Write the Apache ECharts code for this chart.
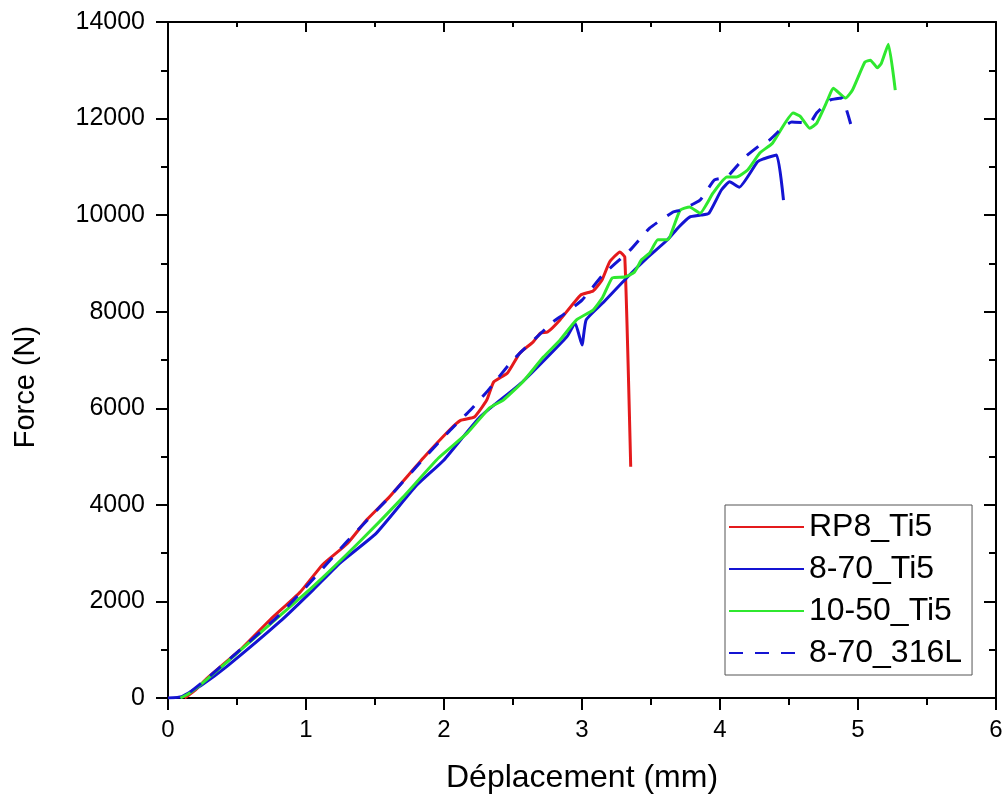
<!DOCTYPE html>
<html>
<head>
<meta charset="utf-8">
<script src="https://cdn.jsdelivr.net/npm/echarts@6/dist/echarts.min.js"></script>
<style>
  html, body { margin: 0; padding: 0; background: #fff; }
  #chart { width: 1005px; height: 796px; }
</style>
</head>
<body>
<div id="chart"></div>
<script>
// Force–displacement curves, [displacement (mm), force (N)]
const rp8Ti5 = [
  [0.12, 0], [0.20, 170], [0.28, 400], [0.52, 990], [0.74, 1620], [0.96, 2200], [1.12, 2760],
  [1.30, 3200], [1.44, 3690], [1.60, 4150], [1.85, 4970], [2.04, 5550], [2.12, 5750],
  [2.22, 5820], [2.31, 6170], [2.36, 6545], [2.46, 6730], [2.55, 7145], [2.645, 7370],
  [2.70, 7560], [2.75, 7580], [2.84, 7830], [2.99, 8346], [3.08, 8430], [3.145, 8657],
  [3.20, 9030], [3.275, 9237], [3.31, 9130], [3.353, 4790]
];
const ti5_870 = [
  [0, 0], [0.10, 30], [0.25, 280], [0.425, 650], [0.81, 1580], [1.05, 2235],
  [1.246, 2795], [1.51, 3415], [1.80, 4400], [2.00, 4930], [2.26, 5820], [2.57, 6550],
  [2.89, 7480], [2.95, 7766], [3.00, 7310], [3.03, 7830], [3.15, 8180], [3.33, 8720],
  [3.47, 9110], [3.62, 9490], [3.70, 9750], [3.78, 9960], [3.86, 10000], [3.92, 10040],
  [4.01, 10520], [4.07, 10690], [4.14, 10580], [4.27, 11100], [4.31, 11160],
  [4.41, 11245], [4.46, 10310]
];
const ti5_1050 = [
  [0.09, 0], [0.15, 90], [0.25, 310], [0.45, 800], [0.667, 1345], [1.05, 2305], [1.39, 3240], [1.70, 4150],
  [1.96, 4970], [2.17, 5490], [2.33, 6010], [2.43, 6170], [2.57, 6545], [2.72, 7060],
  [2.84, 7410], [2.96, 7830], [3.08, 8035], [3.15, 8300], [3.22, 8700], [3.31, 8720],
  [3.38, 8820], [3.43, 9070], [3.49, 9215], [3.55, 9490], [3.62, 9490], [3.71, 10100],
  [3.78, 10170], [3.855, 10040], [3.95, 10460], [4.05, 10790], [4.12, 10790],
  [4.20, 10935], [4.29, 11290], [4.38, 11490], [4.53, 12115], [4.58, 12050],
  [4.65, 11800], [4.70, 11900], [4.78, 12385], [4.82, 12630], [4.91, 12425],
  [4.96, 12590], [5.05, 13170], [5.09, 13210], [5.14, 13050], [5.17, 13150],
  [5.22, 13540], [5.27, 12590]
];
const l316_870 = [
  [0.16, 120], [0.28, 400], [0.52, 990], [0.80, 1700], [1.00, 2300], [1.30, 3250],
  [1.60, 4150], [1.85, 4950], [2.04, 5530], [2.19, 5960], [2.31, 6340], [2.50, 7000],
  [2.79, 7790], [2.86, 7930], [3.00, 8240], [3.15, 8760], [3.35, 9280], [3.49, 9730],
  [3.66, 10065], [3.71, 10100], [3.855, 10310], [3.96, 10730], [4.05, 10790],
  [4.13, 11040], [4.18, 11200], [4.29, 11450], [4.36, 11560], [4.46, 11830],
  [4.52, 11930], [4.65, 11910], [4.70, 12115], [4.80, 12385], [4.88, 12425],
  [4.96, 11750]
];
const seriesNames = ['RP8_Ti5', '8-70_Ti5', '10-50_Ti5', '8-70_316L'];

const FONT = "'Liberation Sans', Arial, Helvetica, sans-serif";
const black = '#000';

function axisBase(extra) {
  return Object.assign({
    type: 'value',
    axisLine: { show: true, onZero: false, lineStyle: { color: black, width: 2 } },
    axisTick: { show: true, length: 12, lineStyle: { color: black, width: 2 } },
    minorTick: { show: true, splitNumber: 2, length: 7, lineStyle: { color: black, width: 2 } },
    splitLine: { show: false },
    axisLabel: { color: black, fontFamily: FONT }
  }, extra);
}

const chart = echarts.init(document.getElementById('chart'), null, { renderer: 'canvas' });

function lineSeries(name, data, color, type) {
  return {
    name: name,
    type: 'line',
    data: data,
    symbol: 'none',
    smooth: 0.15,
    color: color,
    lineStyle: { color: color, width: 3, type: type || 'solid' },
    emphasis: { disabled: true }
  };
}

chart.setOption({
  animation: false,
  backgroundColor: '#fff',
  grid: { left: 168, right: 9, top: 22, bottom: 98, containLabel: false, outerBoundsMode: 'none' },
  xAxis: [
    axisBase({
      min: 0, max: 6, interval: 1, position: 'bottom',
      axisLabel: { color: black, fontFamily: FONT, fontSize: 24, margin: 20 },
      name: 'Déplacement (mm)', nameLocation: 'middle', nameGap: 64,
      nameTextStyle: { color: black, fontFamily: FONT, fontSize: 32 }
    }),
    axisBase({
      min: 0, max: 6, interval: 1, position: 'top',
      axisTick: { show: true, inside: true, length: 10, lineStyle: { color: black, width: 2 } },
      minorTick: { show: true, splitNumber: 2, length: 5, lineStyle: { color: black, width: 2 } },
      axisLabel: { show: false }
    })
  ],
  yAxis: [
    axisBase({
      min: 0, max: 14000, interval: 2000, position: 'left',
      axisLabel: { color: black, fontFamily: FONT, fontSize: 25, margin: 23,
        formatter: function (v) { return String(v); } },
      name: 'Force (N)', nameLocation: 'middle', nameGap: 128, nameRotate: 90,
      nameTextStyle: { color: black, fontFamily: FONT, fontSize: 29, padding: [0, 54, 0, 0] }
    }),
    axisBase({
      min: 0, max: 14000, interval: 2000, position: 'right',
      axisTick: { show: true, inside: true, length: 12, lineStyle: { color: black, width: 2 } },
      minorTick: { show: true, splitNumber: 2, length: 7, lineStyle: { color: black, width: 2 } },
      axisLabel: { show: false }
    })
  ],
  legend: {
    orient: 'vertical',
    left: 725, top: 505,
    data: seriesNames,
    itemWidth: 75, itemHeight: 4, itemGap: 10,
    itemStyle: { opacity: 0 },
    padding: [6, 10, 6, 3],
    borderColor: '#555', borderWidth: 1, backgroundColor: '#fff',
    textStyle: { color: black, fontFamily: FONT, fontSize: 32, lineHeight: 31 },
    selectedMode: false
  },
  series: [
    lineSeries(seriesNames[0], rp8Ti5, '#e41a1c'),
    lineSeries(seriesNames[1], ti5_870, '#1414d2'),
    lineSeries(seriesNames[2], ti5_1050, '#2fe82f'),
    lineSeries(seriesNames[3], l316_870, '#1414d2', [14, 12])
  ]
});
</script>
</body>
</html>
